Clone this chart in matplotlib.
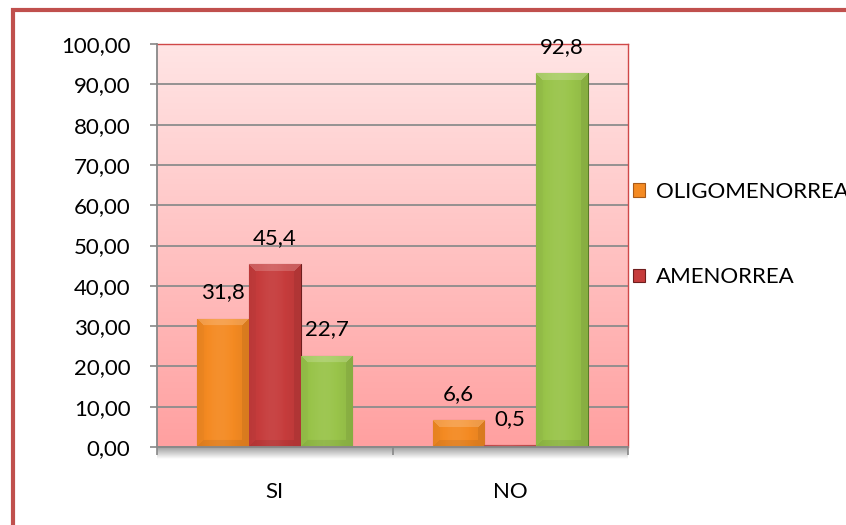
import numpy as np
import matplotlib
matplotlib.use("Agg")
import matplotlib.pyplot as plt
from matplotlib.colors import to_rgb
from matplotlib.patches import Rectangle

# ---- data ----
categories = ["SI", "NO"]
oligomenorrea = [31.8, 6.6]
amenorrea = [45.4, 0.5]
eumenorrea = [22.7, 92.8]
series_names = ["OLIGOMENORREA", "AMENORREA"]
y_ticks = [0, 10, 20, 30, 40, 50, 60, 70, 80, 90, 100]

plt.rcParams["font.family"] = ["Lato", "DejaVu Sans"]
FS = 16

W, H = 846, 525
fig = plt.figure(figsize=(W / 100, H / 100), dpi=100)
fig.patch.set_facecolor("white")

L, R, T, B = 157, 628, 44, 447
ax = fig.add_axes([L / W, 1 - B / H, (R - L) / W, (B - T) / H])

# outer chart border (only top and left edges fall inside the canvas)
fig.add_artist(Rectangle((13 / W, -0.5), 2.0, 1 - 10 / H + 0.5,
                         transform=fig.transFigure, fill=False,
                         edgecolor="#C0504D", linewidth=3.0))

# plot area vertical gradient
top_c = np.array([255, 229, 229]) / 255
bot_c = np.array([255, 160, 160]) / 255
g = np.linspace(0, 1, 256)[:, None, None]
bg = top_c * (1 - g) + bot_c * g
bg = np.repeat(bg, 2, axis=1)
ax.imshow(bg, extent=[-0.5, 1.5, 0, 100], aspect="auto", zorder=0.2,
          interpolation="bilinear")

x = np.arange(len(categories))
bw = 0.22
colors = ["#F48A22", "#C63C3C", "#99C44A"]
edges = ["#A85A18", "#6E1E1E", "#5A7A28"]

px_per_x = (R - L) / 2.0
px_per_y = (B - T) / 100.0


def shade(rgb, s):
    if s >= 1:
        return rgb + (1 - rgb) * (s - 1)
    return rgb * s


def bevel_image(color, w, h, b=7):
    base = np.array(to_rgb(color))
    yy, xx = np.mgrid[0:h, 0:w] + 0.5
    t = xx / w
    sheen = 1.0 + 0.10 * np.exp(-((t - 0.45) / 0.3) ** 2) - 0.05
    img = np.empty((h, w, 3))
    for k in range(3):
        img[..., k] = base[k]
    img = np.where(sheen[..., None] >= 1,
                   img + (1 - img) * (sheen[..., None] - 1),
                   img * sheen[..., None])
    d = np.stack([yy, h - yy, xx, w - xx])
    m = d.min(0)
    idx = d.argmin(0)
    factors = [1.18, 0.93, 0.98, 0.93]
    out = img.copy()
    for i, f in enumerate(factors):
        mask = (m < b) & (idx == i)
        out[mask] = shade(img[mask], f)
    return np.clip(out, 0, 1)


all_series = [oligomenorrea, amenorrea, eumenorrea]
containers = []
for i, vals in enumerate(all_series):
    bars = ax.bar(x + (i - 1) * bw, vals, width=bw, color=colors[i],
                  edgecolor=edges[i], linewidth=0.8, zorder=2)
    containers.append(bars)
    for rect, v in zip(bars, vals):
        x0 = rect.get_x()
        wpx = max(2, int(round(bw * px_per_x)))
        hpx = max(1, int(round(v * px_per_y)))
        img = bevel_image(colors[i], wpx, hpx)
        im = ax.imshow(img, extent=[x0, x0 + bw, 0, v], aspect="auto",
                       zorder=2.1, interpolation="bilinear")
        im.set_clip_path(rect)
        ax.annotate(f"{v:.1f}".replace(".", ","), (rect.get_x() + bw / 2, v),
                    xytext=(0, 19), textcoords="offset points",
                    ha="center", va="center", fontsize=FS, color="black",
                    zorder=5)

ax.set_xlim(-0.5, 1.5)
ax.set_ylim(0, 100)

ax.set_yticks(y_ticks)
ax.set_yticklabels([f"{v:.2f}".replace(".", ",") for v in y_ticks],
                   fontsize=FS)
ax.tick_params(axis="y", length=5, width=1.2, color="#888888", pad=14)

ax.set_xticks(x)
ax.set_xticklabels(categories, fontsize=FS)
ax.tick_params(axis="x", which="major", length=0, pad=25)
ax.set_xticks([-0.5, 0.5, 1.5], minor=True)
ax.tick_params(axis="x", which="minor", length=6, width=1.2, color="#888888")

ax.set_axisbelow(True)
ax.grid(axis="y", color="#8C8C8C", linewidth=1.3, zorder=0.5)

for side in ("top", "right"):
    ax.spines[side].set_color("#D04848")
    ax.spines[side].set_linewidth(1.0)
for side in ("left", "bottom"):
    ax.spines[side].set_color("#888888")
    ax.spines[side].set_linewidth(1.3)
ax.spines["left"].set_zorder(3)
ax.spines["bottom"].set_zorder(3)

# soft shadow under the plot area
sh = fig.add_axes([L / W, 1 - (B + 12) / H, (R - L) / W, 12 / H])
sg = np.linspace(0, 1, 64)[:, None, None]
shadow = np.array([0.62, 0.62, 0.62]) * (1 - sg) + np.array([1, 1, 1]) * sg
sh.imshow(np.repeat(shadow, 2, axis=1), aspect="auto", extent=[0, 1, 0, 1],
          interpolation="bilinear")
sh.set_axis_off()
sh.set_zorder(-1)

# legend
fig.legend(handles=[containers[0][0], containers[1][0]], labels=series_names,
           loc="center left", bbox_to_anchor=(633 / W, 1 - 234.5 / H),
           frameon=False, fontsize=FS, handlelength=0.55, handleheight=0.55,
           handletextpad=0.5, labelspacing=2.95, borderaxespad=0,
           borderpad=0)

fig.savefig("out.png", dpi=100, facecolor="white")
